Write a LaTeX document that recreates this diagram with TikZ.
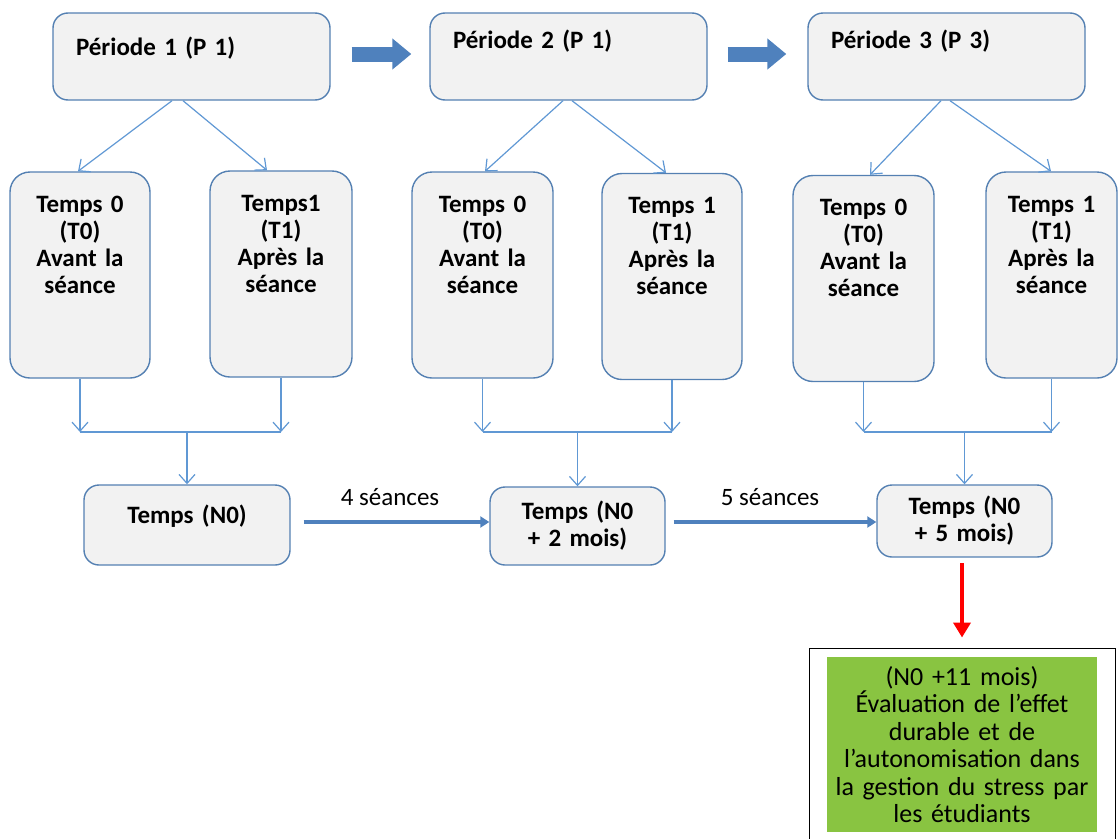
\documentclass[tikz,border=0pt]{standalone}
\usepackage{fontspec}
\setmainfont{Carlito}
\usepackage{tikz}
\usetikzlibrary{arrows.meta,positioning}
\definecolor{boxfill}{RGB}{242,242,242}
\definecolor{boxline}{RGB}{84,128,178}
\definecolor{thinblue}{RGB}{96,152,212}
\definecolor{darkblue}{RGB}{79,129,189}
\definecolor{evalgreen}{RGB}{137,196,65}

\begin{document}
\begin{tikzpicture}[x=1pt,y=-1pt,box/.style={draw=boxline,line width=1.4pt,fill=boxfill,font=\bfseries\fontsize{25}{27}\selectfont},pbox/.style={box,rounded corners=15pt,minimum width=277pt,minimum height=87pt,text width=231pt,inner xsep=23pt,align=left,text height=18pt},tbox/.style={box,rounded corners=20pt,minimum width=140pt,minimum height=206pt,text width=118pt,inner xsep=8pt,align=center,text height=18pt,text depth=144pt},nbox/.style={box,rounded corners=15pt,minimum width=175pt,text width=160pt,inner xsep=7pt,align=center},link/.style={draw=thinblue,line width=1.2pt},arr/.style={link,-{Straight Barb[length=9pt,width=16pt]}},blk/.style={draw=darkblue,line width=15pt,-{Triangle[length=19pt,width=30pt]}},big/.style={draw=darkblue,line width=4pt,-{Triangle[length=9pt,width=11pt]}},lbl/.style={font=\fontsize{25}{27}\selectfont}]
\useasboundingbox (0,0) rectangle (1118,838);
% periodes
\node[pbox,text depth=20pt] (p1) at (191.5,56.5) {Période 1 (P 1)};
\node[pbox,text depth=35pt] (p2) at (568.5,56.5) {Période 2 (P 1)};
\node[pbox,text depth=35pt] (p3) at (946.5,56.5) {Période 3 (P 3)};
\draw[blk] ([xshift=21pt,yshift=2.5pt]p1.east) -- ([xshift=-18pt,yshift=2.5pt]p2.west);
\draw[blk] ([xshift=20pt,yshift=2.5pt]p2.east) -- ([xshift=-21pt,yshift=2.5pt]p3.west);
% temps 0 / temps 1
\node[tbox] (t01) at (80,275) {Temps 0\\(T0)\\Avant la\\séance};
\node[tbox,minimum width=142pt] (t11) at (281,274) {Temps1\\(T1)\\Après la\\séance};
\node[tbox,minimum width=141pt] (t02) at (482.5,275) {Temps 0\\(T0)\\Avant la\\séance};
\node[tbox] (t12) at (672,276.5) {Temps 1\\(T1)\\Après la\\séance};
\node[tbox,minimum width=141pt] (t03) at (863.5,278.5) {Temps 0\\(T0)\\Avant la\\séance};
\node[tbox,minimum width=131pt,text width=115pt] (t13) at (1051.5,275) {Temps 1\\(T1)\\Après la\\séance};
\draw[arr] ([xshift=-19.5pt]p1.south) -- ([xshift=-2pt]t01.north);
\draw[arr] ([xshift=-8.5pt]p1.south) -- ([xshift=-14pt]t11.north);
\draw[arr] ([xshift=-5.5pt]p2.south) -- ([xshift=2.5pt]t02.north);
\draw[arr] ([xshift=3.5pt]p2.south) -- ([xshift=-6pt]t12.north);
\draw[arr] ([xshift=-5.5pt]p3.south) -- ([xshift=6.5pt]t03.north);
\draw[arr] ([xshift=3.5pt]p3.south) -- ([xshift=-0.5pt]t13.north);
% temps N0
\node[nbox,minimum width=206pt,minimum height=80pt,text height=18pt,text depth=22pt] (n0) at (187,525) {Temps (N0)};
\node[nbox,minimum height=78pt] (n2) at (577.5,526) {Temps (N0\\+ 2 mois)};
\node[nbox,minimum height=72pt] (n5) at (964.5,521) {Temps (N0\\+ 5 mois)};
\coordinate (j1) at (187,432);
\coordinate (j2) at (577.5,432);
\coordinate (j3) at (964.5,432);
\draw[arr] (t01.south) -- (t01.south |- j1);
\draw[arr] (t11.south) -- (t11.south |- j1);
\draw[link] (t01.south |- j1) -- (t11.south |- j1);
\draw[arr] (j1) -- (n0.north);
\draw[arr] (t02.south) -- (t02.south |- j2);
\draw[arr] (t12.south) -- (t12.south |- j2);
\draw[link] (t02.south |- j2) -- (t12.south |- j2);
\draw[arr] (j2) -- (n2.north);
\draw[arr] (t03.south) -- (t03.south |- j3);
\draw[arr] (t13.south) -- (t13.south |- j3);
\draw[link] (t03.south |- j3) -- (t13.south |- j3);
\draw[arr] (j3) -- (n5.north);
\draw[big] ([xshift=13pt,yshift=3pt]n0.east) -- ([yshift=4pt]n2.west);
\draw[big] ([xshift=8pt,yshift=4pt]n2.east) -- ([yshift=-1pt]n5.west);
\node[lbl] (s4) at (390,497) {4 séances};
\node[lbl] (s5) at (770,497) {5 séances};
% evaluation finale
\node[draw=black,line width=1pt,fill=white,minimum width=306pt,minimum height=194pt] (fin) at (962,745) {};
\node[fill=evalgreen,inner sep=0pt,minimum width=270pt,minimum height=175pt,text width=270pt,align=center,font=\fontsize{26}{27.5}\selectfont] (eval) at (962,744.5) {(N0 +11 mois)\\Évaluation de l’effet\\durable et de\\l’autonomisation dans\\la gestion du stress par\\les étudiants};
\coordinate (r0) at (962,563);
\draw[draw=red,line width=4.5pt,-{Triangle[length=15pt,width=17pt]}] (r0) -- ([yshift=10pt]fin.north);
\end{tikzpicture}
\end{document}
